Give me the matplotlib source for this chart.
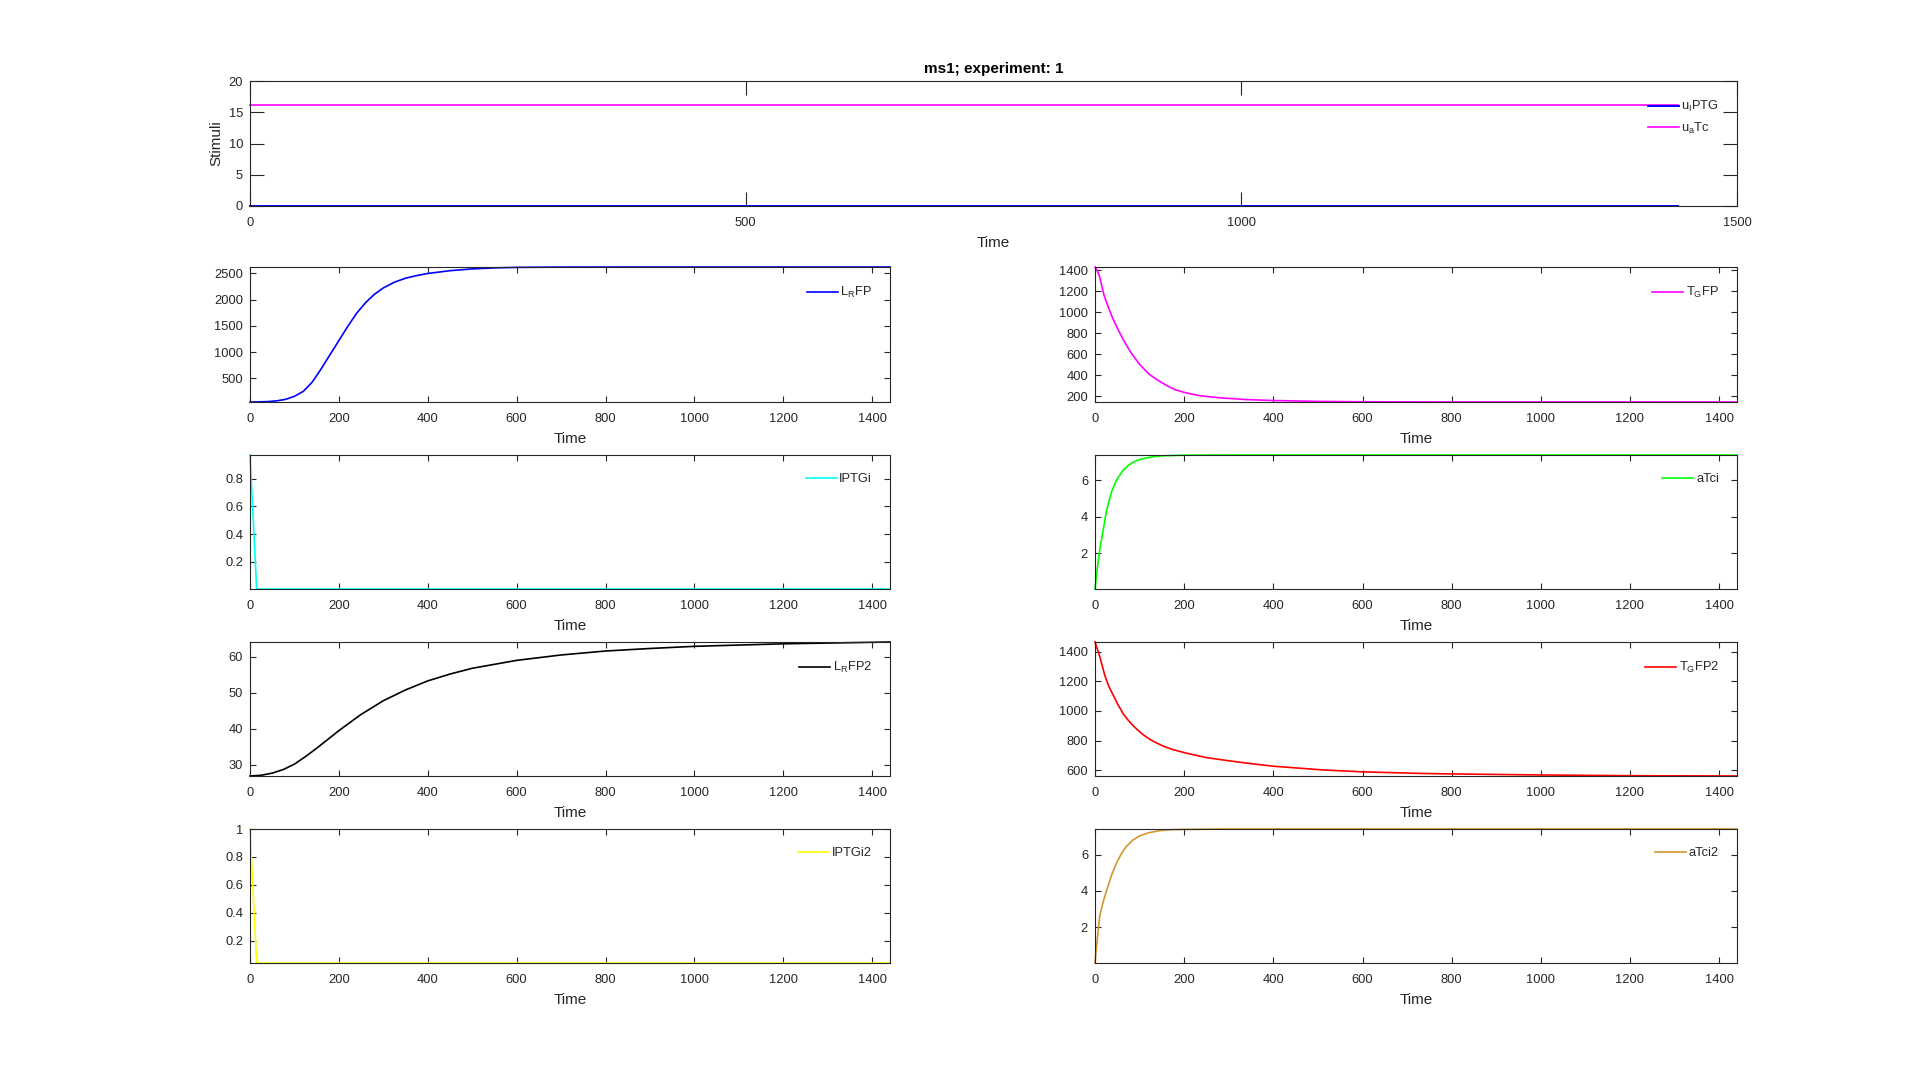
"""Simulated time courses for ms1, experiment 1: stimuli on top, then
the two copies of the reporter / inducer states in a 4x2 grid."""

import matplotlib

matplotlib.use("Agg")
import matplotlib.pyplot as plt
from matplotlib.ticker import FormatStrFormatter

plt.rcParams["font.family"] = ["Liberation Sans", "DejaVu Sans"]
plt.rcParams["mathtext.default"] = "regular"

# ---- data ------------------------------------------------------------------
STIM_T = [0, 1440]
U_IPTG = [0, 0]
U_ATC = [16.1, 16.1]

LRFP_T = [0, 20, 40, 60, 80, 100, 120, 140, 160, 180, 200, 220, 240, 260, 280,
          300, 325, 350, 375, 400, 450, 500, 550, 600, 700, 900, 1440]
LRFP = [52, 54, 60, 74, 102, 160, 255, 430, 680, 950, 1220, 1490, 1740, 1940,
        2100, 2220, 2330, 2405, 2455, 2495, 2548, 2582, 2601, 2611, 2617, 2618,
        2618]

TGFP_T = [0, 5, 10, 15, 20, 30, 40, 50, 60, 70, 80, 90, 100, 120, 140, 160,
          180, 200, 220, 240, 280, 340, 400, 500, 600, 800, 1440]
TGFP = [1429, 1395, 1340, 1255, 1165, 1045, 940, 850, 765, 690, 620, 560, 505,
        415, 355, 305, 262, 238, 218, 203, 186, 169, 160, 152, 148, 146.5, 146]

IPTGI_T = [0, 15, 1440]
IPTGI = [0.97, 0.005, 0.005]

ATCI_T = [0, 5, 11, 19, 26, 37, 48, 63, 75, 86, 97, 108, 122, 138, 155, 170,
          200, 300, 1440]
ATCI = [0.02, 1.14, 2.24, 3.34, 4.35, 5.36, 6.0, 6.55, 6.82, 7.0, 7.11, 7.19,
        7.26, 7.32, 7.35, 7.36, 7.38, 7.39, 7.39]

LRFP2_T = [0, 25, 50, 75, 100, 125, 150, 200, 250, 300, 350, 400, 450, 500,
           600, 700, 800, 900, 1000, 1200, 1440]
LRFP2 = [26.9, 27.1, 27.7, 28.7, 30.2, 32.3, 34.6, 39.5, 44.0, 47.8, 50.8,
         53.3, 55.2, 56.8, 59.0, 60.5, 61.6, 62.3, 62.9, 63.6, 64.1]

TGFP2_T = [0, 11, 22, 31, 41, 52, 63, 75, 86, 97, 108, 122, 138, 155, 175, 200,
           250, 302, 350, 400, 511, 600, 735, 800, 1000, 1200, 1440]
TGFP2 = [1465, 1364, 1240, 1165, 1106, 1040, 982, 935, 899, 868, 840, 810, 784,
         760, 739, 719, 685, 663, 644, 627, 602, 589, 578, 575, 568, 563, 561]

IPTGI2_T = [0, 15, 1440]
IPTGI2 = [1.0, 0.04, 0.04]

ATCI2_T = [0, 5, 10.5, 19, 29, 37, 48, 58, 70, 85, 100, 120, 145, 170, 200,
           300, 1440]
ATCI2 = [0.02, 1.3, 2.6, 3.45, 4.24, 4.85, 5.52, 6.0, 6.44, 6.8, 7.03, 7.2,
         7.32, 7.37, 7.39, 7.41, 7.41]

# (time, values, legend label, colour, y ticks)
PANELS = [
    (LRFP_T, LRFP, r"L$_R$FP", "#0000ff", [500, 1000, 1500, 2000, 2500]),
    (TGFP_T, TGFP, r"T$_G$FP", "#ff00ff", [200, 400, 600, 800, 1000, 1200, 1400]),
    (IPTGI_T, IPTGI, "IPTGi", "#00ffff", [0.2, 0.4, 0.6, 0.8]),
    (ATCI_T, ATCI, "aTci", "#00ff00", [2, 4, 6]),
    (LRFP2_T, LRFP2, r"L$_R$FP2", "#000000", [30, 40, 50, 60]),
    (TGFP2_T, TGFP2, r"T$_G$FP2", "#ff0000", [600, 800, 1000, 1200, 1400]),
    (IPTGI2_T, IPTGI2, "IPTGi2", "#ffff00", [0.2, 0.4, 0.6, 0.8, 1.0]),
    (ATCI2_T, ATCI2, "aTci2", "#d4952e", [2, 4, 6]),
]
TIME_TICKS = [0, 200, 400, 600, 800, 1000, 1200, 1400]

# ---- layout (pixels of the 1920x1083 canvas) -------------------------------
W, H = 1920, 1083
AX_COLOR = "#262626"
COLS = [(250, 890), (1095, 1737)]
ROWS = [(267, 402), (455, 589), (642, 776), (829, 963)]


def rect(x0, x1, y0, y1):
    return [x0 / W, 1 - y1 / H, (x1 - x0) / W, (y1 - y0) / H]


def style(ax, ticklen):
    for sp in ax.spines.values():
        sp.set_color(AX_COLOR)
        sp.set_linewidth(0.8)
    ax.tick_params(direction="in", top=True, right=True, length=ticklen,
                   width=0.8, color=AX_COLOR, labelcolor=AX_COLOR,
                   labelsize=9.3)
    ax.tick_params(axis="x", pad=8)
    ax.tick_params(axis="y", pad=5)


def legend(ax):
    ax.legend(loc="upper right", frameon=False, fontsize=9.3, handlelength=2.4,
              handletextpad=0.2, borderaxespad=1.0, labelcolor=AX_COLOR)


fig = plt.figure(figsize=(W / 100, H / 100), dpi=100)

top = fig.add_axes(rect(250, 1737, 81, 206))
top.plot(STIM_T, U_IPTG, color="#0000ff", lw=1.4, label=r"u$_I$PTG", clip_on=False)
top.plot(STIM_T, U_ATC, color="#ff00ff", lw=1.2, label=r"u$_a$Tc", clip_on=False)
top.set_xlim(0, 1500)
top.set_ylim(0, 20)
top.set_xticks([0, 500, 1000, 1500])
top.set_yticks([0, 5, 10, 15, 20])
style(top, 10)
top.set_xlabel("Time", fontsize=11, color=AX_COLOR, labelpad=5)
top.set_ylabel("Stimuli", fontsize=11, color=AX_COLOR, labelpad=4)
top.set_title("ms1; experiment: 1", fontsize=11, fontweight="bold",
              color="#000000", pad=6)
legend(top)

for i, (t, v, label, color, yt) in enumerate(PANELS):
    (x0, x1), (y0, y1) = COLS[i % 2], ROWS[i // 2]
    ax = fig.add_axes(rect(x0, x1, y0, y1))
    ax.plot(t, v, color=color, lw=1.2, label=label, clip_on=False)
    ax.set_xlim(0, 1440)
    ax.set_ylim(min(v), max(v))
    ax.set_xticks(TIME_TICKS)
    ax.set_yticks(yt)
    ax.yaxis.set_major_formatter(FormatStrFormatter("%g"))
    style(ax, 4.3)
    ax.set_xlabel("Time", fontsize=11, color=AX_COLOR, labelpad=5)
    legend(ax)

fig.savefig("out.png", dpi=100, facecolor="white")
